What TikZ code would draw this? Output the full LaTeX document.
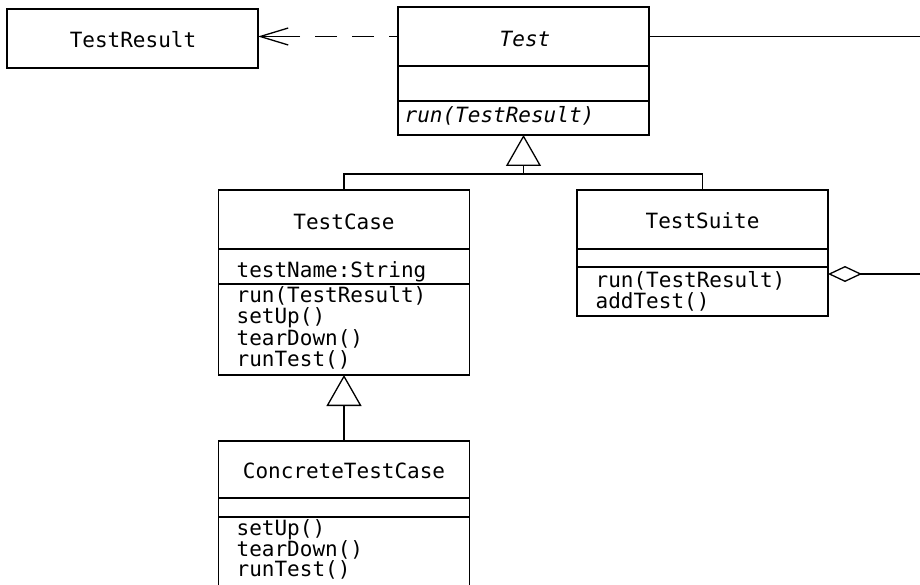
\documentclass[tikz,border=0pt]{standalone}
\usepackage{fontspec}
\setmonofont{DejaVu Sans Mono}
\usetikzlibrary{arrows.meta}
\begin{document}
\begin{tikzpicture}[x=1pt,y=-1pt,line width=1.3pt,
  cls/.style={draw,rectangle,inner sep=0pt,outer sep=0pt,minimum width=251pt},
  lbl/.style={font=\fontsize{21}{21}\selectfont\ttfamily,inner sep=0pt},
  ilbl/.style={font=\fontsize{21}{21}\selectfont\ttfamily\itshape,inner sep=0pt},
  gen/.style={-{Triangle[open,length=31pt,width=35pt]}},
  dep/.style={dash pattern=on 9pt off 15pt on 22pt off 15pt on 22pt off 15pt on 60pt,-{Straight Barb[length=28pt,width=17pt]}},
  agg/.style={{Diamond[open,length=34pt,width=16pt]}-}]
\clip (0,0) rectangle (920,585);
% TestResult
\node[cls,minimum height=59pt] (tr) at (132.5,38.5) {};
\node[lbl,anchor=base] (trT) at (133,48) {TestResult};
% Test
\node[cls,minimum height=59pt] (testH) at (523.5,36.5) {};
\node[cls,minimum height=35pt] (testA) at (523.5,83.5) {};
\node[cls,minimum height=34pt] (testM) at (523.5,118) {};
\node[ilbl,anchor=base] (testT) at (525,47) {Test};
\node[ilbl,anchor=base west] (testM1) at (404,123) {run(TestResult)};
% TestCase
\node[cls,minimum height=59pt] (tcH) at (344,219.5) {};
\node[cls,minimum height=35pt] (tcA) at (344,266.5) {};
\node[cls,minimum height=91pt] (tcM) at (344,329.5) {};
\node[lbl,anchor=base] (tcT) at (344,230) {TestCase};
\node[lbl,anchor=base west] (tcA1) at (236,277) {testName:String};
\node[lbl,anchor=base west] (tcM1) at (236,302) {run(TestResult)};
\node[lbl,anchor=base west] (tcM2) at (236,323.5) {setUp()};
\node[lbl,anchor=base west] (tcM3) at (236,345) {tearDown()};
\node[lbl,anchor=base west] (tcM4) at (236,366.5) {runTest()};
% TestSuite
\node[cls,minimum height=59pt] (tsH) at (702.5,219.5) {};
\node[cls,minimum height=18pt] (tsA) at (702.5,258) {};
\node[cls,minimum height=49pt] (tsM) at (702.5,291.5) {};
\node[lbl,anchor=base] (tsT) at (702.5,228.5) {TestSuite};
\node[lbl,anchor=base west] (tsM1) at (595,287) {run(TestResult)};
\node[lbl,anchor=base west] (tsM2) at (595,308.5) {addTest()};
% ConcreteTestCase
\node[cls,minimum height=57pt] (ctH) at (344,469.5) {};
\node[cls,minimum height=19pt] (ctA) at (344,507.5) {};
\node[cls,minimum height=103pt] (ctM) at (344,568.5) {};
\node[lbl,anchor=base] (ctT) at (344,478) {ConcreteTestCase};
\node[lbl,anchor=base west] (ctM1) at (236,535) {setUp()};
\node[lbl,anchor=base west] (ctM2) at (236,556) {tearDown()};
\node[lbl,anchor=base west] (ctM3) at (236,576.5) {runTest()};
% connectors
\coordinate (j1) at (523.5,174);
\coordinate (rt) at (920,36.5);
\coordinate (ra) at (920,274);
\draw[dep] (testH.west) -- (testH.west -| tr.east);
\draw (testH.east) -- (rt);
\draw[gen] (j1) -- (testM.south);
\draw (tcH.north) |- (j1) -| (tsH.north);
\draw[gen] (ctH.north) -- (tcM.south);
\draw[agg] (ra -| tsM.east) -- (ra);
\end{tikzpicture}
\end{document}
